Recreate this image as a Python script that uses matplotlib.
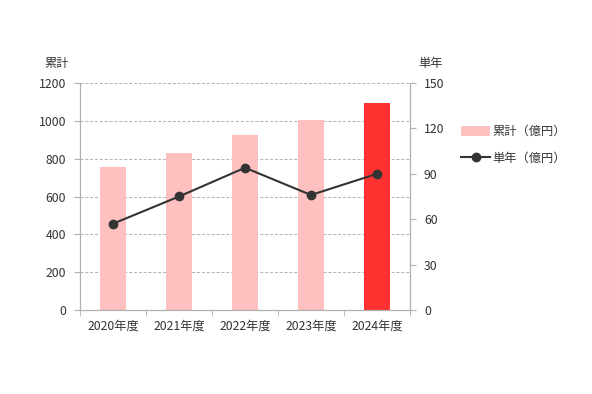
import matplotlib
matplotlib.use("Agg")
import matplotlib.pyplot as plt
from matplotlib.lines import Line2D
from matplotlib.patches import Patch

plt.rcParams["font.family"] = ["Noto Sans CJK JP", "DejaVu Sans"]

years = ["2020年度", "2021年度", "2022年度", "2023年度", "2024年度"]
cumulative = [756, 831, 925, 1004, 1095]   # 累計（億円）
annual = [57, 75, 94, 76, 90]              # 単年（億円）
bar_colors = ["#ffc0c0", "#ffc0c0", "#ffc0c0", "#ffc0c0", "#ff3131"]

grid_c = "#b0b0b0"
text_c = "#333333"
fs = 8.8

fig = plt.figure(figsize=(5.92, 3.94), dpi=100)
ax = fig.add_axes([80 / 592, 84 / 394, 330 / 592, 227 / 394])
ax2 = ax.twinx()

x = range(len(years))
ax.bar(x, cumulative, width=0.4, color=bar_colors, zorder=2)
ax.set_xlim(-0.5, len(years) - 0.5)
ax.set_ylim(0, 1200)
ax.set_yticks(range(0, 1201, 200))
ax.set_xticks(list(x))
ax.set_xticklabels(years)
ax.set_xticks([i - 0.5 for i in range(len(years) + 1)], minor=True)
ax.tick_params(axis="x", which="major", length=0, pad=7, labelsize=fs, colors=text_c)
ax.tick_params(axis="x", which="minor", length=4, color=grid_c)
ax.tick_params(axis="y", length=4, color=grid_c, labelsize=fs, labelcolor=text_c, pad=6)
ax.yaxis.grid(True, ls=(0, (3, 2)), color=grid_c, lw=0.7, zorder=0)
ax.set_axisbelow(True)

ax2.plot(x, annual, color="#333333", lw=1.5, marker="o", ms=6, zorder=3)
ax2.set_ylim(0, 150)
ax2.set_yticks(range(0, 151, 30))
ax2.tick_params(axis="y", length=4, color=grid_c, labelsize=fs, labelcolor=text_c, pad=6)

for a in (ax, ax2):
    a.spines["top"].set_visible(False)
    for s in ("left", "right", "bottom"):
        a.spines[s].set_color(grid_c)

ax.set_zorder(ax2.get_zorder() - 1)
ax.patch.set_visible(False)
ax2.patch.set_visible(False)

fig.text(57 / 592, 1 - 63 / 394, "累計", fontsize=fs, color=text_c, ha="center", va="center")
fig.text(431 / 592, 1 - 63 / 394, "単年", fontsize=fs, color=text_c, ha="center", va="center")

handles = [
    Patch(facecolor="#ffc0c0", edgecolor="none"),
    Line2D([0], [0], color="#333333", lw=1.5, marker="o", ms=6),
]
fig.legend(handles, ["累計（億円）", "単年（億円）"], loc="center left",
           bbox_to_anchor=(450 / 592, 1 - 145 / 394), frameon=False, fontsize=fs,
           labelcolor=text_c, handlelength=2.4, handleheight=0.9, handletextpad=0.2,
           labelspacing=1.1)

fig.savefig("out.png", dpi=100)
